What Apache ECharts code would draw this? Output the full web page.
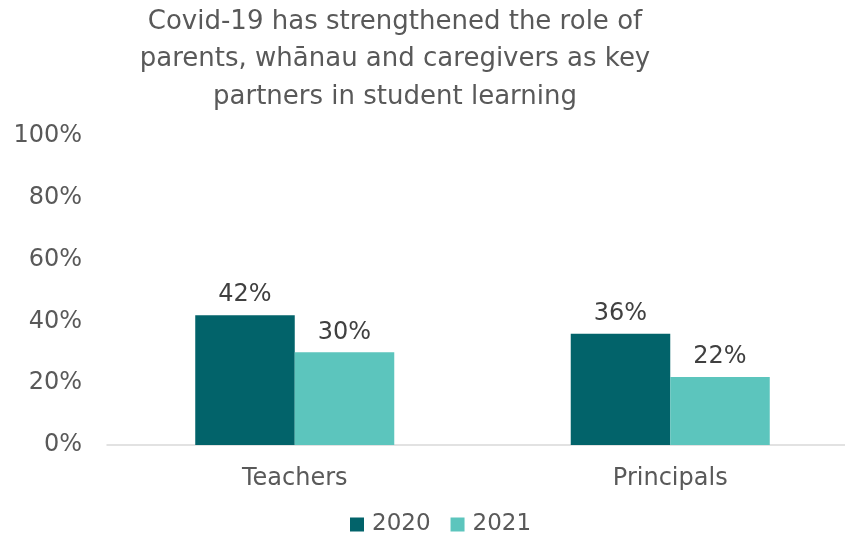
<!DOCTYPE html>
<html>
<head>
<meta charset="utf-8">
<script src="https://cdn.jsdelivr.net/npm/echarts@6/dist/echarts.min.js"></script>
<style>
  html, body { margin: 0; padding: 0; background: #fff; overflow: hidden; }
  #chart { width: 858px; height: 537px; }
</style>
</head>
<body>
<div id="chart"></div>
<script>
const titleText = 'Covid-19 has strengthened the role of\nparents, whānau and caregivers as key\npartners in student learning';
const categories = ['Teachers', 'Principals'];
const seriesNames = ['2020', '2021'];
const values2020 = [42, 36];
const values2021 = [30, 22];
const yTicks = [0, 20, 40, 60, 80, 100];

const FONT = 'DejaVu Sans';
const TEXT = '#595959';
const colors = ['#02636A', '#5CC5BD'];

const chart = echarts.init(document.getElementById('chart'), null, { renderer: 'canvas' });

const makeSeries = (name, data, color) => ({
  name,
  type: 'bar',
  data,
  barGap: '0%',
  barCategoryGap: '47%',
  itemStyle: { color },
  label: {
    show: true,
    position: 'top',
    distance: 8,
    formatter: p => p.value + '%',
    fontFamily: FONT,
    fontSize: 24,
    color: '#404040'
  }
});

chart.setOption({
  animation: false,
  backgroundColor: '#ffffff',
  graphic: [{
    type: 'text',
    x: 395,
    y: 3,
    style: {
      text: titleText,
      font: '26px "DejaVu Sans"',
      fill: TEXT,
      align: 'center',
      verticalAlign: 'top',
      lineHeight: 37.5
    }
  }],
  legend: {
    bottom: -4,
    left: 345,
    itemWidth: 14,
    itemHeight: 14,
    itemGap: 20,
    icon: 'rect',
    textStyle: { fontFamily: FONT, fontSize: 23, color: TEXT, padding: [0, 0, 0, 3] },
    data: seriesNames
  },
  grid: {
    left: 107,
    right: 0,
    top: 136,
    bottom: 92,
    containLabel: false
  },
  xAxis: {
    type: 'category',
    data: categories,
    axisLine: { show: true, lineStyle: { color: '#D9D9D9', width: 1.5 } },
    axisTick: { show: false },
    axisLabel: {
      fontFamily: FONT,
      fontSize: 24,
      color: TEXT,
      margin: 22
    }
  },
  yAxis: {
    type: 'value',
    min: yTicks[0],
    max: yTicks[yTicks.length - 1],
    interval: yTicks[1] - yTicks[0],
    axisLine: { show: false },
    axisTick: { show: false },
    splitLine: { show: false },
    axisLabel: {
      fontFamily: FONT,
      fontSize: 24,
      color: TEXT,
      margin: 25,
      padding: [4, 0, 0, 0],
      formatter: v => v + '%'
    }
  },
  series: [
    makeSeries(seriesNames[0], values2020, colors[0]),
    makeSeries(seriesNames[1], values2021, colors[1])
  ]
});
</script>
</body>
</html>
